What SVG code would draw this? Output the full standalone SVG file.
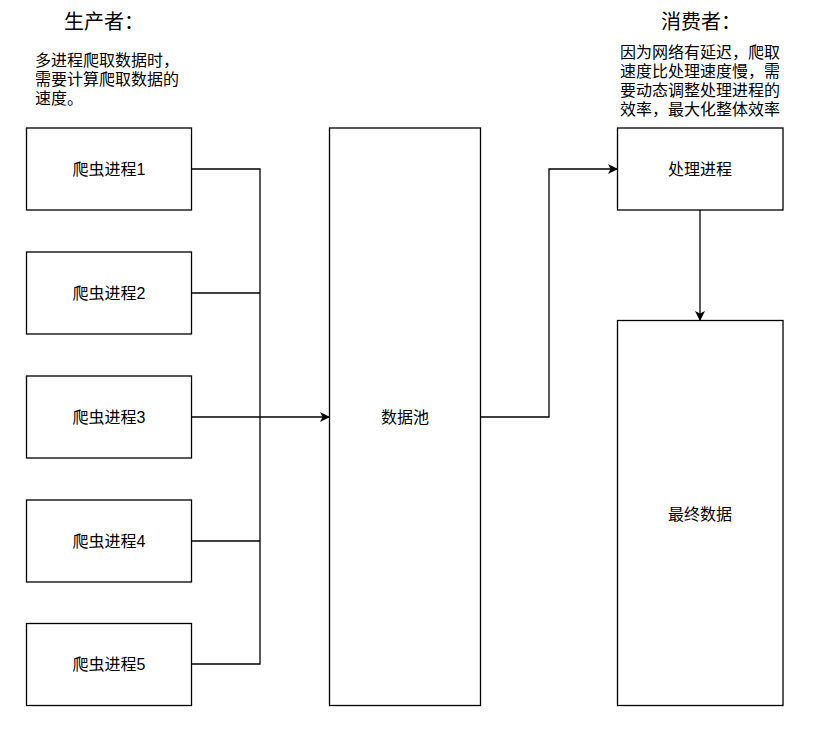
<svg xmlns="http://www.w3.org/2000/svg" width="816" height="729" viewBox="0 0 816 729">
<style>
.box{fill:#fff;stroke:#000;stroke-width:1.3}
.lbl{font-family:"Liberation Sans","Noto Sans CJK SC",sans-serif;font-size:16px;fill:#000;text-anchor:middle;dominant-baseline:central}
.title{font-family:"Liberation Sans","Noto Sans CJK SC",sans-serif;font-size:20px;fill:#000;text-anchor:middle}
.note{font-family:"Liberation Sans","Noto Sans CJK SC",sans-serif;font-size:16px;fill:#000}
.edge{fill:none;stroke:#000;stroke-width:1.3}
</style>
<defs>
<marker id="arr" viewBox="0 0 10 10" refX="9" refY="5" markerWidth="10" markerHeight="10" markerUnits="userSpaceOnUse" orient="auto">
<path d="M0,0 L10,5 L0,10 L2.5,5 Z" fill="#000"/>
</marker>
</defs>
<rect width="816" height="729" fill="#fff"/>
<g id="texts">
<text class="title" x="104" y="29">生产者：</text>
<text class="title" x="701" y="29">消费者：</text>
<text class="note" x="35" y="66">多进程爬取数据时，</text>
<text class="note" x="35" y="85">需要计算爬取数据的</text>
<text class="note" x="35" y="104">速度。</text>
<text class="note" x="700" y="58" text-anchor="middle">因为网络有延迟，爬取</text>
<text class="note" x="700" y="77" text-anchor="middle">速度比处理速度慢，需</text>
<text class="note" x="700" y="96" text-anchor="middle">要动态调整处理进程的</text>
<text class="note" x="700" y="115" text-anchor="middle">效率，最大化整体效率</text>
</g>
<g id="edges">
<path class="edge" d="M191.5,169 H260 V664 H191.5"/>
<path class="edge" d="M191.5,293 H260"/>
<path class="edge" d="M191.5,541 H260"/>
<path class="edge" d="M191.5,417 H260"/>
<path class="edge" d="M260,417 H329" stroke-width="2" marker-end="url(#arr)"/>
<path class="edge" d="M480,417 H549 V169 H617" marker-end="url(#arr)"/>
<path class="edge" d="M700,210 V320" marker-end="url(#arr)"/>
</g>
<g id="crawler1"><rect class="box" x="26.5" y="128" width="165" height="82"/><text class="lbl" x="109" y="169">爬虫进程1</text></g>
<g id="crawler2"><rect class="box" x="26.5" y="252" width="165" height="82"/><text class="lbl" x="109" y="293">爬虫进程2</text></g>
<g id="crawler3"><rect class="box" x="26.5" y="376" width="165" height="82"/><text class="lbl" x="109" y="417">爬虫进程3</text></g>
<g id="crawler4"><rect class="box" x="26.5" y="500" width="165" height="82"/><text class="lbl" x="109" y="541">爬虫进程4</text></g>
<g id="crawler5"><rect class="box" x="26.5" y="623.5" width="165" height="82"/><text class="lbl" x="109" y="664">爬虫进程5</text></g>
<g id="pool"><rect class="box" x="329.5" y="128" width="151" height="577.5"/><text class="lbl" x="405" y="417">数据池</text></g>
<g id="process"><rect class="box" x="617.5" y="128" width="165.5" height="82"/><text class="lbl" x="700" y="169">处理进程</text></g>
<g id="final"><rect class="box" x="617.5" y="320.5" width="165.5" height="385"/><text class="lbl" x="700" y="514">最终数据</text></g>
</svg>
